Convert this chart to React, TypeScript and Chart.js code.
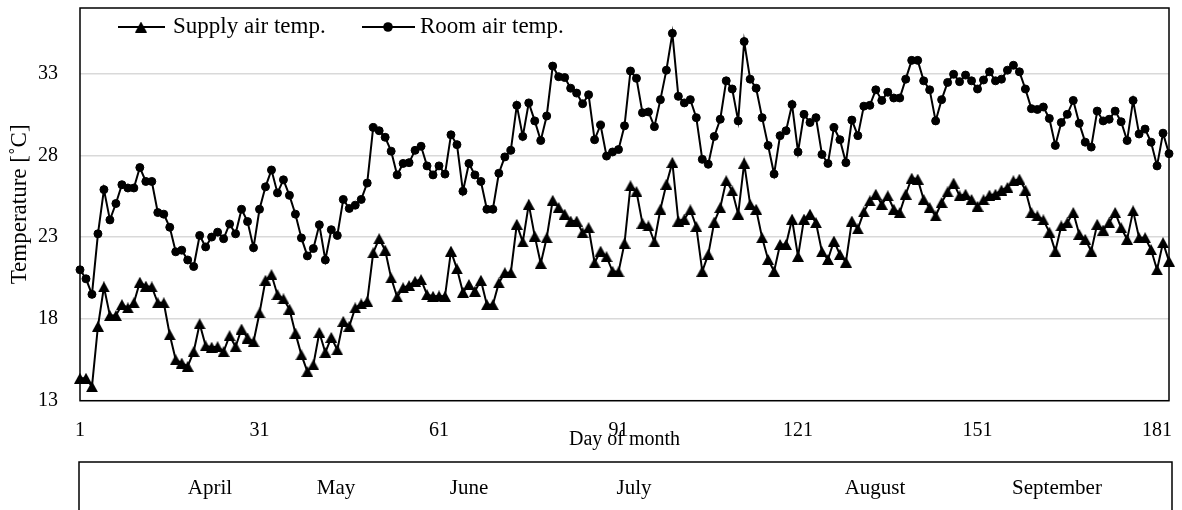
import React, { useEffect, useRef } from 'react';
import { Chart, registerables } from 'chart.js';

Chart.register(...registerables);

// ---- data ----
const days: number[] = Array.from({ length: 183 }, (_, i) => i + 1);

const supplyAirTemp: number[] = [
  14.37, 14.37, 13.86, 17.55, 19.95, 18.2, 18.2, 18.87, 18.67, 18.98,
  20.24, 20.0, 19.95, 18.98, 18.98, 17.03, 15.5, 15.3, 15.1, 16.0,
  17.7, 16.35, 16.27, 16.3, 16.0, 16.97, 16.3, 17.38, 16.83, 16.6,
  18.36, 20.36, 20.7, 19.48, 19.22, 18.6, 17.13, 15.8, 14.78, 15.19,
  17.17, 15.95, 16.87, 16.11, 17.85, 17.55, 18.67, 18.91, 19.07, 22.04,
  22.9, 22.2, 20.5, 19.34, 19.9, 20.04, 20.3, 20.4, 19.48, 19.38,
  19.4, 19.38, 22.14, 21.06, 19.63, 20.1, 19.69, 20.36, 18.87, 18.87,
  20.2, 20.82, 20.82, 23.78, 22.7, 25.0, 23.06, 21.39, 22.96, 25.25,
  24.8, 24.4, 23.98, 23.98, 23.27, 23.57, 21.43, 22.14, 21.8, 20.91,
  20.87, 22.62, 26.13, 25.78, 23.84, 23.68, 22.7, 24.7, 26.23, 27.56,
  23.98, 24.09, 24.66, 23.64, 20.91, 21.94, 23.92, 24.8, 26.44, 25.82,
  24.4, 27.52, 25.0, 24.7, 22.96, 21.63, 20.91, 22.55, 22.55, 24.09,
  21.82, 24.1, 24.4, 23.88, 22.1, 21.63, 22.76, 21.94, 21.47, 23.98,
  23.5, 24.54, 25.21, 25.62, 25.0, 25.52, 24.7, 24.5, 25.62, 26.6,
  26.54, 25.3, 24.8, 24.29, 25.11, 25.76, 26.3, 25.52, 25.62, 25.3,
  24.88, 25.28, 25.56, 25.62, 25.87, 26.03, 26.44, 26.54, 25.87, 24.5,
  24.29, 24.05, 23.3, 22.14, 23.68, 23.88, 24.5, 23.17, 22.86, 22.14,
  23.78, 23.43, 23.88, 24.5, 23.57, 22.86, 24.6, 22.96, 22.96, 22.24,
  21.0, 22.66, 21.53,
];

const roomAirTemp: number[] = [
  21.0, 20.45, 19.5, 23.2, 25.9, 24.05, 25.05, 26.2, 26.0, 26.0,
  27.25, 26.4, 26.4, 24.5, 24.4, 23.6, 22.1, 22.2, 21.6, 21.2,
  23.1, 22.4, 23.0, 23.3, 22.9, 23.8, 23.2, 24.7, 23.95, 22.35,
  24.7, 26.07, 27.1, 25.7, 26.5, 25.55, 24.4, 22.95, 21.85, 22.3,
  23.75, 21.6, 23.45, 23.1, 25.3, 24.75, 24.95, 25.3, 26.3, 29.7,
  29.5, 29.1, 28.25, 26.8, 27.5, 27.55, 28.3, 28.55, 27.35, 26.8,
  27.35, 26.85, 29.25, 28.65, 25.8, 27.5, 26.8, 26.4, 24.7, 24.7,
  26.9, 27.9, 28.3, 31.05, 29.15, 31.2, 30.1, 28.9, 30.4, 33.45,
  32.8, 32.75, 32.1, 31.8, 31.15, 31.7, 28.95, 29.85, 27.95, 28.2,
  28.35, 29.8, 33.15, 32.7, 30.6, 30.65, 29.75, 31.4, 33.2, 35.45,
  31.6, 31.2, 31.4, 30.3, 27.75, 27.45, 29.15, 30.2, 32.55, 32.05,
  30.1, 34.95, 32.65, 32.1, 30.3, 28.6, 26.85, 29.2, 29.5, 31.1,
  28.2, 30.5, 30.0, 30.3, 28.05, 27.5, 29.7, 28.95, 27.55, 30.15,
  29.2, 31.0, 31.05, 32.0, 31.35, 31.85, 31.5, 31.5, 32.65, 33.8,
  33.8, 32.55, 32.0, 30.1, 31.4, 32.45, 32.95, 32.5, 32.9, 32.55,
  32.05, 32.6, 33.1, 32.55, 32.65, 33.2, 33.5, 33.1, 32.05, 30.85,
  30.8, 30.95, 30.25, 28.6, 30.0, 30.5, 31.35, 29.95, 28.8, 28.5,
  30.7, 30.1, 30.2, 30.7, 30.05, 28.9, 31.35, 29.3, 29.6, 28.8,
  27.35, 29.35, 28.1,
];

const xTickValues: number[] = [1, 31, 61, 91, 121, 151, 181];
const yTickValues: number[] = [13, 18, 23, 28, 33];
const seriesNames: string[] = ['Supply air temp.', 'Room air temp.'];
const monthNames: string[] = ['April', 'May', 'June', 'July', 'August', 'September'];

// ---- layout / style ----
const W = 1182;
const H = 510;
const FONT = "'Liberation Serif', 'Times New Roman', serif";
const TICK_FS = 20;
const LEGEND_FS = 23;
const MONTH_FS = 21;
const MONTH_X = [210, 336, 469, 634, 875, 1057];

function makeTriangle(w: number, h: number): HTMLCanvasElement {
  const c = document.createElement('canvas');
  c.width = w;
  c.height = h;
  const g = c.getContext('2d')!;
  g.fillStyle = '#000';
  g.beginPath();
  g.moveTo(w / 2, 0);
  g.lineTo(w, h);
  g.lineTo(0, h);
  g.closePath();
  g.fill();
  return c;
}

export default function App() {
  const ref = useRef<HTMLCanvasElement | null>(null);

  useEffect(() => {
    if (!ref.current) return;
    const tri = makeTriangle(12, 11);

    const decor = {
      id: 'decor',
      beforeDatasetsDraw(chart: any) {
        const { ctx, chartArea: a } = chart;
        ctx.save();
        ctx.strokeStyle = '#000';
        ctx.lineWidth = 1.5;
        ctx.strokeRect(a.left, a.top, a.right - a.left, a.bottom - a.top);
        ctx.restore();
      },
      afterDraw(chart: any) {
        const { ctx } = chart;
        ctx.save();
        ctx.fillStyle = '#000';
        ctx.strokeStyle = '#000';
        ctx.textBaseline = 'middle';
        ctx.textAlign = 'left';
        // legend
        ctx.font = `${LEGEND_FS}px ${FONT}`;
        const ly = 27;
        ctx.lineWidth = 2;
        ctx.beginPath();
        ctx.moveTo(118, ly);
        ctx.lineTo(165, ly);
        ctx.stroke();
        ctx.drawImage(tri, 141 - 6, ly - 5.5);
        ctx.fillText(seriesNames[0], 173, ly);
        ctx.beginPath();
        ctx.moveTo(362, ly);
        ctx.lineTo(415, ly);
        ctx.stroke();
        ctx.beginPath();
        ctx.arc(388, ly, 4.8, 0, Math.PI * 2);
        ctx.fill();
        ctx.fillText(seriesNames[1], 420, ly);
        // month box
        ctx.lineWidth = 1.5;
        ctx.beginPath();
        ctx.moveTo(79, H);
        ctx.lineTo(79, 462);
        ctx.lineTo(1172, 462);
        ctx.lineTo(1172, H);
        ctx.stroke();
        ctx.font = `${MONTH_FS}px ${FONT}`;
        ctx.textAlign = 'center';
        monthNames.forEach((m, i) => ctx.fillText(m, MONTH_X[i], 488));
        ctx.restore();
      },
    };

    const chart = new Chart(ref.current, {
      type: 'line',
      data: {
        datasets: [
          {
            label: seriesNames[0],
            data: days.map((d, i) => ({ x: d, y: supplyAirTemp[i] })),
            borderColor: '#000',
            backgroundColor: '#000',
            borderWidth: 2,
            pointStyle: tri as any,
            pointRadius: 6,
            clip: false as any,
          },
          {
            label: seriesNames[1],
            data: days.map((d, i) => ({ x: d, y: roomAirTemp[i] })),
            borderColor: '#000',
            backgroundColor: '#000',
            borderWidth: 2,
            pointStyle: 'circle',
            pointRadius: 4,
            pointBorderWidth: 1,
            clip: false as any,
          },
        ],
      },
      options: {
        animation: false,
        responsive: false,
        devicePixelRatio: 1,
        layout: { padding: { left: 0, top: 8, right: 13, bottom: 0 } },
        plugins: { legend: { display: false }, tooltip: { enabled: false } },
        scales: {
          x: {
            type: 'linear',
            min: 1,
            max: 183,
            afterBuildTicks: (s: any) => {
              s.ticks = xTickValues.map((v) => ({ value: v }));
            },
            afterFit: (s: any) => {
              s.height = H - 400.7;
            },
            grid: {
              display: true,
              color: 'rgba(0,0,0,0)',
              drawOnChartArea: false,
              drawTicks: true,
              tickLength: 18,
              tickColor: 'rgba(0,0,0,0)',
            },
            border: { display: false },
            ticks: {
              color: '#000',
              font: { family: FONT, size: TICK_FS },
              padding: 0,
              maxRotation: 0,
              autoSkip: false,
            },
            title: {
              display: true,
              text: 'Day of month',
              color: '#000',
              font: { family: FONT, size: TICK_FS },
              padding: { top: 0, bottom: 58 },
            },
          },
          y: {
            min: 13,
            max: 37,
            afterBuildTicks: (s: any) => {
              s.ticks = yTickValues.map((v) => ({ value: v }));
            },
            afterFit: (s: any) => {
              s.width = 80;
            },
            grid: {
              color: '#d9d9d9',
              lineWidth: 1.5,
              drawTicks: true,
              tickLength: 26,
              tickColor: 'rgba(0,0,0,0)',
            },
            border: { display: false },
            ticks: {
              color: '#000',
              font: { family: FONT, size: TICK_FS },
              padding: -4,
            },
            title: {
              display: true,
              text: 'Temperature [˚C]',
              color: '#000',
              font: { family: FONT, size: LEGEND_FS },
              padding: { top: 6, bottom: 0 },
            },
          },
        },
      },
      plugins: [decor],
    });
    return () => chart.destroy();
  }, []);

  return (
    <div style={{ position: 'fixed', left: 0, top: 0, width: W, height: H, background: '#fff' }}>
      <canvas ref={ref} width={W} height={H} style={{ width: W, height: H, display: 'block' }} />
    </div>
  );
}
